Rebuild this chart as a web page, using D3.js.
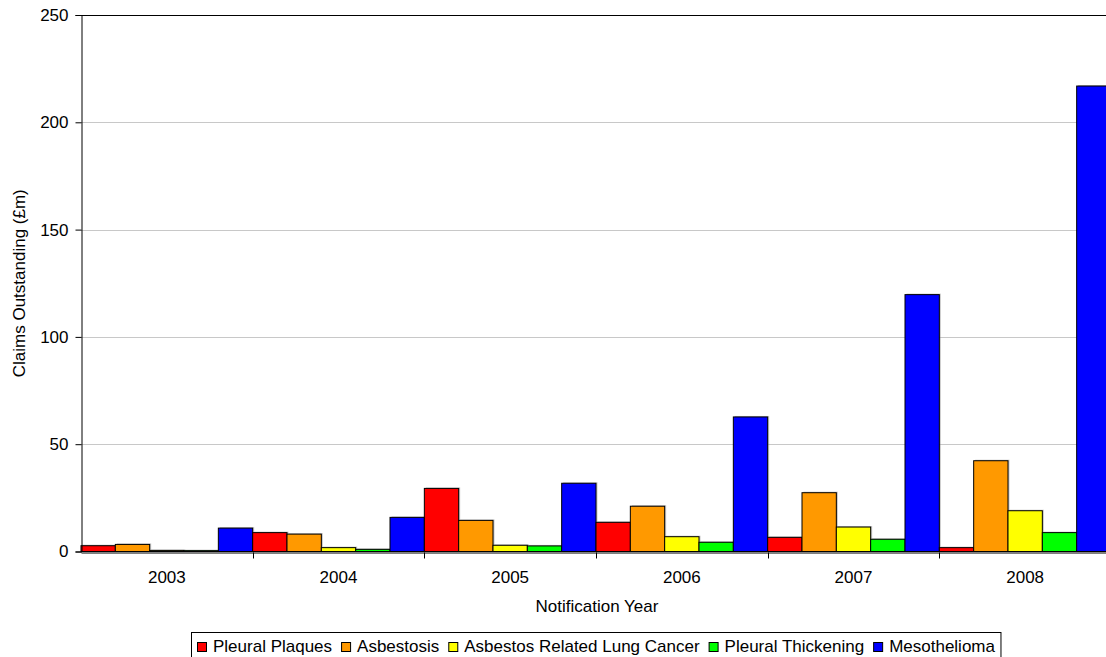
<!DOCTYPE html>
<html>
<head>
<meta charset="utf-8">
<script src="https://cdn.jsdelivr.net/npm/d3@7"></script>
<style>
  html, body { margin: 0; padding: 0; background: #fff; }
  svg { display: block; font-family: "Liberation Sans", Arial, sans-serif; }
</style>
</head>
<body>
<svg id="chart" width="1106" height="657"></svg>
<script>
// Claims outstanding by disease and notification year (£m)
const years = ["2003", "2004", "2005", "2006", "2007", "2008"];
const seriesNames = ["Pleural Plaques", "Asbestosis", "Asbestos Related Lung Cancer", "Pleural Thickening", "Mesothelioma"];
const seriesColors = ["#FF0000", "#FF9900", "#FFFF00", "#00FF00", "#0000FF"];
const pleuralPlaques = [2.7, 8.8, 29.4, 13.6, 6.6, 1.8];
const asbestosis = [3.3, 8.1, 14.5, 21.1, 27.4, 42.3];
const lungCancer = [0.5, 1.8, 2.9, 6.9, 11.4, 19.0];
const pleuralThickening = [0.4, 1.0, 2.6, 4.3, 5.7, 8.8];
const mesothelioma = [10.9, 15.9, 31.8, 62.7, 119.7, 216.9];
const yTicks = [0, 50, 100, 150, 200, 250];

const seriesValues = [pleuralPlaques, asbestosis, lungCancer, pleuralThickening, mesothelioma];
const FONT = 17;

const svg = d3.select("#chart");
const plot = { left: 81, top: 15, right: 1111, bottom: 551.5 };

const x = d3.scaleBand().domain(years).range([plot.left, plot.right]).paddingInner(0).paddingOuter(0);
const xs = d3.scaleBand().domain(seriesNames).range([0, x.bandwidth()]).padding(0);
const y = d3.scaleLinear().domain([0, 250]).range([plot.bottom, plot.top]);

// horizontal gridlines
svg.append("g")
  .selectAll("line")
  .data(yTicks.filter(d => d > 0 && d < 250))
  .join("line")
  .attr("x1", plot.left).attr("x2", plot.right)
  .attr("y1", d => Math.round(y(d)) + 0.5).attr("y2", d => Math.round(y(d)) + 0.5)
  .attr("stroke", "#c8c8c8").attr("stroke-width", 1);

// top border of plot area
svg.append("line")
  .attr("x1", plot.left).attr("x2", plot.right)
  .attr("y1", Math.round(y(250)) + 0.5).attr("y2", Math.round(y(250)) + 0.5)
  .attr("stroke", "#000");

// bars
const rows = [];
years.forEach((yr, i) => {
  seriesNames.forEach((s, j) => rows.push({ year: yr, series: s, color: seriesColors[j], value: seriesValues[j][i] }));
});

const bars = svg.append("g");
// soft shadow behind each bar
bars.selectAll("rect.shadow")
  .data(rows)
  .join("rect")
  .attr("class", "shadow")
  .attr("x", d => x(d.year) + xs(d.series) + 1.5)
  .attr("y", d => y(d.value) - 1)
  .attr("width", xs.bandwidth())
  .attr("height", d => plot.bottom - y(d.value))
  .attr("fill", "#808080").attr("opacity", 0.45);

bars.selectAll("rect.bar")
  .data(rows)
  .join("rect")
  .attr("class", "bar")
  .attr("x", d => x(d.year) + xs(d.series))
  .attr("y", d => y(d.value))
  .attr("width", xs.bandwidth())
  .attr("height", d => plot.bottom - y(d.value))
  .attr("fill", d => d.color)
  .attr("stroke", "#000").attr("stroke-width", 1);

// y axis
const yAxis = svg.append("g")
  .attr("transform", `translate(${plot.left + 0.5},0)`)
  .call(d3.axisLeft(y).tickValues(yTicks).tickSize(6).tickPadding(7).tickFormat(d3.format("d")));
yAxis.select(".domain").attr("stroke", "#000");
yAxis.selectAll(".tick line").attr("stroke", "#000");
yAxis.selectAll(".tick text").attr("font-size", FONT).attr("fill", "#000")
  .attr("font-family", "Liberation Sans, Arial, sans-serif");

// x axis with ticks on category boundaries
const xAxis = svg.append("g")
  .attr("transform", `translate(0,${Math.round(plot.bottom) + 0.5})`)
  .call(d3.axisBottom(x).tickSize(0).tickPadding(18));
xAxis.select(".domain").attr("stroke", "#000");
xAxis.selectAll(".tick text").attr("font-size", FONT).attr("fill", "#000")
  .attr("font-family", "Liberation Sans, Arial, sans-serif");
xAxis.selectAll("line.bound")
  .data(years.slice(1))
  .join("line")
  .attr("class", "bound")
  .attr("x1", d => Math.round(x(d)) + 0.5).attr("x2", d => Math.round(x(d)) + 0.5)
  .attr("y1", 0).attr("y2", 6)
  .attr("stroke", "#000");

// axis titles
svg.append("text")
  .attr("x", 597).attr("y", 612)
  .attr("text-anchor", "middle").attr("font-size", FONT)
  .text("Notification Year");

svg.append("text")
  .attr("transform", `translate(25,${(plot.top + plot.bottom) / 2}) rotate(-90)`)
  .attr("text-anchor", "middle").attr("font-size", FONT)
  .text("Claims Outstanding (£m)");

// legend
const legend = svg.append("g");
const legendBox = legend.append("rect")
  .attr("x", 191.5).attr("y", 632.5).attr("height", 40)
  .attr("fill", "#fff").attr("stroke", "#000");
let lx = 197;
seriesNames.forEach((s, j) => {
  legend.append("rect")
    .attr("x", lx + 0.5).attr("y", 642.5).attr("width", 9).attr("height", 9)
    .attr("fill", seriesColors[j]).attr("stroke", "#000");
  const t = legend.append("text")
    .attr("x", lx + 16).attr("y", 652)
    .attr("font-size", FONT).text(s);
  lx += 16 + t.node().getComputedTextLength() + 9;
});
legendBox.attr("width", lx - 3 - 191.5);
</script>
</body>
</html>
